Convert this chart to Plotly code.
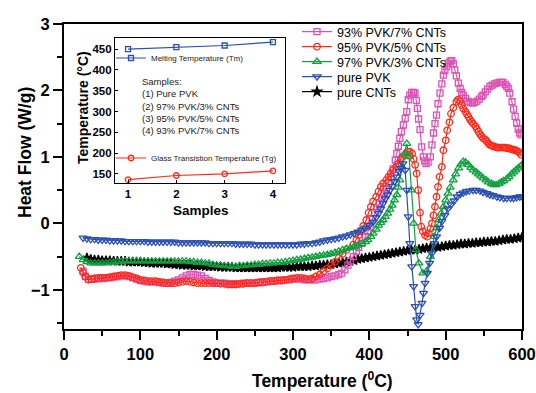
import plotly.graph_objects as go

# ---------------- main DSC curves (temperature °C, heat flow W/g) ----------------
cnt_T = list(range(30, 605, 5))
cnt_H = [-0.52, -0.54, -0.55, -0.55, -0.56, -0.56, -0.56, -0.57, -0.57, -0.57, -0.57, -0.58, -0.58, -0.58,
         -0.58, -0.59, -0.59, -0.6, -0.6, -0.6, -0.6, -0.61, -0.61, -0.62, -0.62, -0.63, -0.63, -0.63,
         -0.64, -0.64, -0.64, -0.65, -0.65, -0.65, -0.65, -0.66, -0.66, -0.66, -0.66, -0.67, -0.67, -0.67,
         -0.67, -0.67, -0.67, -0.67, -0.67, -0.67, -0.67, -0.67, -0.67, -0.66, -0.66, -0.66, -0.66, -0.65,
         -0.65, -0.65, -0.65, -0.64, -0.64, -0.63, -0.63, -0.62, -0.62, -0.61, -0.6, -0.59, -0.58, -0.57,
         -0.56, -0.54, -0.53, -0.52, -0.51, -0.5, -0.49, -0.48, -0.47, -0.46, -0.45, -0.44, -0.43, -0.42,
         -0.41, -0.4, -0.4, -0.39, -0.38, -0.37, -0.37, -0.36, -0.36, -0.35, -0.34, -0.33, -0.33, -0.32,
         -0.31, -0.31, -0.3, -0.3, -0.29, -0.29, -0.28, -0.28, -0.27, -0.27, -0.26, -0.25, -0.24, -0.24,
         -0.23, -0.22, -0.21]

pvk_T = list(range(25, 405, 5)) + [
    405, 409, 412, 415, 418, 421, 424, 427, 430, 433, 436, 439, 441, 444, 447, 449, 451, 453, 455.5, 458,
    460, 462, 464, 466.5, 469, 471, 473, 476, 479, 482, 485, 488, 492, 495, 499, 503, 507, 511, 515, 519,
    523, 527, 531, 536, 540, 545, 549, 554, 558, 562, 567, 571, 576, 580, 585, 589, 593, 597, 600]
pvk_H = [-0.22, -0.23, -0.24, -0.24, -0.25, -0.25, -0.25, -0.26, -0.26, -0.26, -0.26, -0.27, -0.27, -0.27,
         -0.27, -0.27, -0.27, -0.28, -0.28, -0.28, -0.28, -0.28, -0.28, -0.28, -0.28, -0.29, -0.29, -0.29,
         -0.29, -0.29, -0.29, -0.29, -0.29, -0.3, -0.3, -0.3, -0.3, -0.3, -0.3, -0.3, -0.31, -0.31, -0.31,
         -0.31, -0.31, -0.32, -0.32, -0.32, -0.32, -0.32, -0.32, -0.32, -0.32, -0.32, -0.32, -0.32, -0.32,
         -0.31, -0.31, -0.3, -0.3, -0.29, -0.28, -0.26, -0.25, -0.24, -0.23, -0.22, -0.2, -0.19, -0.17,
         -0.15, -0.13, -0.1, -0.07, -0.03,
         0.02, 0.09, 0.15, 0.22, 0.3, 0.37, 0.43, 0.5, 0.56, 0.63, 0.7, 0.78, 0.83, 0.9, 0.8, 0.5, 0.1,
         -0.3, -0.65, -0.95, -1.25, -1.45, -1.52, -1.38, -1.2, -1.05, -0.9, -0.75, -0.6, -0.45, -0.3, -0.2,
         -0.07, 0.03, 0.12, 0.22, 0.28, 0.34, 0.4, 0.44, 0.46, 0.48, 0.49, 0.5, 0.5, 0.49, 0.47, 0.45,
         0.43, 0.42, 0.4, 0.39, 0.38, 0.38, 0.38, 0.38, 0.39, 0.4, 0.4]

p97_T = list(range(20, 400, 5)) + [
    398, 402, 405, 409, 412, 415, 418, 421, 424, 427, 430, 433, 436, 438, 440, 443, 446, 449, 452, 455,
    458, 461, 465, 470, 475, 480, 485, 488, 491, 494, 497, 500, 503, 506, 510, 513, 517, 520, 523, 526,
    530, 533, 536, 540, 543, 546, 549, 553, 556, 560, 563, 566, 570, 573, 576, 580, 583, 586, 589, 592,
    595, 598, 600]
p97_H = [-0.5, -0.55, -0.58, -0.6, -0.6, -0.6, -0.6, -0.6, -0.59, -0.59, -0.58, -0.58, -0.57, -0.57,
         -0.57, -0.57, -0.57, -0.57, -0.57, -0.57, -0.57, -0.57, -0.57, -0.57, -0.57, -0.57, -0.57, -0.57,
         -0.57, -0.58, -0.58, -0.59, -0.59, -0.6, -0.6, -0.62, -0.63, -0.63, -0.64, -0.64, -0.65, -0.65,
         -0.64, -0.64, -0.63, -0.63, -0.62, -0.62, -0.61, -0.61, -0.6, -0.6, -0.59, -0.59, -0.58, -0.57,
         -0.56, -0.55, -0.54, -0.53, -0.52, -0.51, -0.5, -0.49, -0.48, -0.47, -0.46, -0.44, -0.42, -0.4,
         -0.38, -0.37, -0.35, -0.33, -0.31, -0.28,
         -0.25, -0.2, -0.15, -0.09, -0.03, 0.01, 0.05, 0.1, 0.15, 0.21, 0.27, 0.35, 0.43, 0.54, 0.65, 0.85,
         1.05, 1.2, 1.0, 0.5, 0.0, -0.4, -0.6, -0.75, -0.72, -0.5, -0.2, -0.07, 0.05, 0.15, 0.25, 0.35,
         0.45, 0.54, 0.65, 0.74, 0.83, 0.89, 0.93, 0.92, 0.88, 0.84, 0.8, 0.77, 0.74, 0.71, 0.68, 0.65,
         0.62, 0.6, 0.58, 0.58, 0.6, 0.62, 0.64, 0.67, 0.7, 0.74, 0.77, 0.8, 0.83, 0.86, 0.88]

p95_T = [22, 25, 28, 32, 36] + list(range(40, 375, 5)) + [
    379, 383, 386, 389, 392, 396, 399, 402, 405, 409, 412, 415, 418, 422, 425, 428, 431, 435, 438, 441,
    443, 447, 450, 453, 456, 458, 460, 462, 464, 466.4, 468, 470, 473, 476, 478, 480, 482, 484, 486, 488,
    490, 492, 495, 497, 500, 502, 505, 507, 510, 514, 516, 519, 521, 523, 526, 528, 530, 532, 534, 536,
    539, 541, 543, 545, 547, 549, 552, 554, 556, 558, 560, 562, 565, 567, 569, 571, 574, 576, 578, 580,
    583, 585, 587, 589, 591, 593, 595, 597, 599]
p95_H = [-0.67, -0.74, -0.8, -0.85, -0.84,
         -0.83, -0.82, -0.82, -0.82, -0.81, -0.8, -0.79, -0.78, -0.78, -0.79, -0.81, -0.83, -0.85, -0.86,
         -0.87, -0.87, -0.87, -0.88, -0.89, -0.9, -0.9, -0.9, -0.89, -0.88, -0.87, -0.88, -0.89, -0.9, -0.9,
         -0.9, -0.9, -0.9, -0.9, -0.91, -0.91, -0.92, -0.92, -0.92, -0.91, -0.91, -0.9, -0.9, -0.9, -0.89,
         -0.89, -0.88, -0.87, -0.87, -0.86, -0.86, -0.85, -0.84, -0.83, -0.82, -0.82, -0.83, -0.84, -0.83,
         -0.8, -0.77, -0.72, -0.68, -0.63, -0.58, -0.52, -0.46, -0.4, -0.32,
         -0.25, -0.18, -0.12, -0.04, 0.05, 0.16, 0.25, 0.33, 0.4, 0.48, 0.55, 0.6, 0.65, 0.7, 0.75, 0.8,
         0.85, 0.9, 0.95, 1.0, 1.03, 1.08, 1.08, 1.05, 0.97, 0.88, 0.75, 0.5, 0.16, -0.05, -0.12, -0.18,
         -0.2, -0.15, -0.08, 0.0, 0.12, 0.25, 0.4, 0.55, 0.7, 0.85, 1.1, 1.25, 1.4, 1.52, 1.65, 1.74, 1.83,
         1.86, 1.84, 1.78, 1.73, 1.68, 1.64, 1.6, 1.56, 1.53, 1.5, 1.46, 1.42, 1.38, 1.34, 1.31, 1.28,
         1.26, 1.23, 1.2, 1.18, 1.17, 1.16, 1.15, 1.14, 1.14, 1.14, 1.14, 1.14, 1.14, 1.13, 1.13, 1.12,
         1.11, 1.11, 1.1, 1.09, 1.08, 1.06, 1.03, 1.01]

p93_T = [25, 28, 32, 36] + list(range(40, 365, 5)) + [
    364, 368, 372, 375, 379, 383, 386, 390, 395, 398, 401, 404, 407, 410, 413, 416, 419, 422, 425, 428,
    431, 434, 436, 438, 440, 442, 444.6, 447, 449, 451, 453, 455.5, 458, 459.8, 461.5, 462.9, 464.5,
    466.4, 468.6, 470.7, 472.5, 474.3, 477, 480, 482, 484, 486, 488, 490, 492.6, 495, 497, 499, 501.4,
    504, 506, 508, 510, 512, 514, 516.6, 519, 521, 523, 526, 529, 532, 535, 538, 541, 544, 547, 549,
    552, 555, 558, 561, 564, 567, 570, 573, 575, 578, 580, 582, 584, 587, 589, 591, 593, 595, 597, 599]
p93_H = [-0.72, -0.8, -0.84, -0.84,
         -0.84, -0.83, -0.83, -0.82, -0.82, -0.81, -0.8, -0.79, -0.79, -0.8, -0.82, -0.84, -0.86, -0.87,
         -0.88, -0.88, -0.88, -0.89, -0.9, -0.9, -0.89, -0.87, -0.85, -0.82, -0.79, -0.77, -0.77, -0.78,
         -0.79, -0.83, -0.86, -0.88, -0.9, -0.9, -0.9, -0.91, -0.91, -0.91, -0.91, -0.9, -0.9, -0.9, -0.9,
         -0.89, -0.88, -0.88, -0.87, -0.87, -0.86, -0.86, -0.85, -0.85, -0.84, -0.84, -0.84, -0.85, -0.85,
         -0.85, -0.85, -0.84, -0.83, -0.82, -0.8, -0.79, -0.77,
         -0.75, -0.7, -0.63, -0.57, -0.5, -0.42, -0.36, -0.3, -0.2, -0.12, -0.05, 0.06, 0.16, 0.23, 0.3,
         0.38, 0.45, 0.52, 0.6, 0.7, 0.82, 0.95, 1.05, 1.16, 1.28, 1.38, 1.48, 1.58, 1.68, 1.86, 1.93,
         1.97, 1.97, 1.96, 1.85, 1.73, 1.57, 1.41, 1.15, 1.0, 0.94, 0.9, 0.92, 1.0, 1.18, 1.36, 1.5, 1.63,
         1.8, 1.96, 2.1, 2.23, 2.3, 2.36, 2.41, 2.44, 2.45, 2.4, 2.31, 2.22, 2.11, 2.03, 1.97, 1.93, 1.88,
         1.84, 1.82, 1.81, 1.82, 1.84, 1.87, 1.91, 1.93, 1.98, 2.02, 2.06, 2.08, 2.1, 2.11, 2.12, 2.12,
         2.12, 2.09, 2.06, 2.03, 1.96, 1.83, 1.72, 1.61, 1.51, 1.42, 1.36, 1.33]

# ---------------- inset data ----------------
samples = [1, 2, 3, 4]
tm_vals = [450, 455, 459, 467]
tg_vals = [136, 146, 150, 157]

sample_lines = ["Samples:", "(1) Pure PVK", "(2) 97% PVK/3% CNTs",
                "(3) 95% PVK/5% CNTs", "(4) 93% PVK/7% CNTs"]

PINK = "#dc52b4"
RED = "#ff2a1a"
GREEN = "#10a040"
BLUE = "#2b4fb0"
BLACK = "#000000"

FONT = "Liberation Sans, Arial, sans-serif"

fig = go.Figure()

def add_series(x, y, name, color, symbol, legend, size=6.5):
    fig.add_trace(go.Scatter(
        x=x, y=y, name=name, mode="lines+markers",
        line=dict(color=color, width=1.2),
        marker=dict(symbol=symbol, size=size, color=color,
                    line=dict(color=color, width=1.3)),
        legend=legend))

add_series(cnt_T, cnt_H, "pure CNTs", BLACK, "star", "legend5", size=7)
add_series(p93_T, p93_H, "93% PVK/7% CNTs", PINK, "square-open", "legend", size=6)
add_series(p95_T, p95_H, "95% PVK/5% CNTs", RED, "circle-open", "legend2", size=6.5)
add_series(p97_T, p97_H, "97% PVK/3% CNTs", GREEN, "triangle-up-open", "legend3", size=7)
add_series(pvk_T, pvk_H, "pure PVK", BLUE, "triangle-down-open", "legend4", size=7)

fig.add_trace(go.Scatter(
    x=samples, y=tm_vals, name="Melting Temperature (Tm)", mode="lines+markers",
    xaxis="x2", yaxis="y2", line=dict(color=BLUE, width=1.2),
    marker=dict(symbol="square-open", size=5, color=BLUE, line=dict(color=BLUE, width=1.3)),
    legend="legend6"))
fig.add_trace(go.Scatter(
    x=samples, y=tg_vals, name="Glass Transistion Temperature (Tg)", mode="lines+markers",
    xaxis="x2", yaxis="y2", line=dict(color=RED, width=1.2),
    marker=dict(symbol="circle-open", size=5.5, color=RED, line=dict(color=RED, width=1.3)),
    legend="legend7"))

# plot area geometry in pixels
L, R, T, B = 64, 522, 24, 329
W, H = 536, 393
def px(xp):
    return (xp - L) / (R - L)
def py(yp):
    return (B - yp) / (B - T)

leg_common = dict(bgcolor="rgba(0,0,0,0)", borderwidth=0, xanchor="left", yanchor="middle",
                  font=dict(family=FONT, size=12.5, color="#000"))
legend_layout = {}
for key, ypix in zip(["legend", "legend2", "legend3", "legend4", "legend5"], [32, 47, 62, 77, 92]):
    legend_layout[key] = dict(x=px(297), y=py(ypix), **leg_common)
inset_leg = dict(bgcolor="rgba(0,0,0,0)", borderwidth=0, xanchor="left", yanchor="middle",
                 font=dict(family=FONT, size=8, color="#222"))
legend_layout["legend6"] = dict(x=px(111), y=py(58), **inset_leg)
legend_layout["legend7"] = dict(x=px(111), y=py(158), **inset_leg)

tickfont = dict(family=FONT, size=16.5, color="#000", weight="bold")
inset_tickfont = dict(family=FONT, size=11.5, color="#000", weight="bold")

fig.update_layout(
    template="none",
    width=W, height=H,
    margin=dict(l=L, r=W - R, t=T, b=H - B, pad=0, autoexpand=False),
    paper_bgcolor="white", plot_bgcolor="white",
    showlegend=True,
    xaxis=dict(range=[0, 600], dtick=100, tick0=0, showgrid=False, zeroline=False, automargin=False,
               showline=True, linecolor="#000", linewidth=2, mirror=True,
               ticks="outside", ticklen=9, tickwidth=2, tickcolor="#000",
               minor=dict(dtick=50, ticks="outside", ticklen=5, tickwidth=2, tickcolor="#000"),
               tickfont=tickfont, domain=[0, 1]),
    yaxis=dict(range=[-1.59, 3], dtick=1, tick0=0, showgrid=False, zeroline=False, automargin=False,
               showline=True, linecolor="#000", linewidth=2, mirror=True,
               ticks="outside", ticklen=9, tickwidth=2, tickcolor="#000",
               minor=dict(dtick=0.5, ticks="outside", ticklen=5, tickwidth=2, tickcolor="#000"),
               tickfont=tickfont, domain=[0, 1]),
    xaxis2=dict(domain=[px(115), px(285)], anchor="y2", range=[0.73, 4.25], automargin=False,
                tickvals=samples, showgrid=False, zeroline=False,
                showline=True, linecolor="#000", linewidth=1.2, mirror=True,
                ticks="inside", ticklen=3, tickcolor="#000", tickfont=inset_tickfont),
    yaxis2=dict(domain=[py(183), py(38)], anchor="x2", range=[128, 477], automargin=False,
                dtick=50, tick0=150, showgrid=False, zeroline=False,
                showline=True, linecolor="#000", linewidth=1.2, mirror=True,
                ticks="inside", ticklen=3, tickcolor="#000", tickfont=inset_tickfont),
    annotations=[
        dict(text="Heat Flow (W/g)", x=px(24.5), y=py(152.5), xref="paper", yref="paper",
             textangle=-90, showarrow=False, xanchor="center", yanchor="middle",
             font=dict(family=FONT, size=17.5, color="#000", weight="bold")),
        dict(text="Temperature (<sup>0</sup>C)", x=px(322), y=py(380), xref="paper", yref="paper",
             showarrow=False, xanchor="center", yanchor="middle",
             font=dict(family=FONT, size=17.5, color="#000", weight="bold")),
        dict(text="Temperature (°C)", x=px(83), y=py(108), xref="paper", yref="paper",
             textangle=-90, showarrow=False, xanchor="center", yanchor="middle",
             font=dict(family=FONT, size=14, color="#000", weight="bold")),
        dict(text="Samples", x=px(201), y=py(210), xref="paper", yref="paper",
             showarrow=False, xanchor="center", yanchor="middle",
             font=dict(family=FONT, size=13.5, color="#000", weight="bold")),
        dict(text="<br>".join(sample_lines), x=px(141), y=py(75), xref="paper", yref="paper",
             showarrow=False, xanchor="left", yanchor="top", align="left", borderpad=0,
             font=dict(family=FONT, size=9.5, color="#222")),
    ],
    **legend_layout,
)

fig.write_html("out.html", config={"displayModeBar": False},
               post_script="document.body.style.margin='0px';document.body.style.overflow='hidden';")
